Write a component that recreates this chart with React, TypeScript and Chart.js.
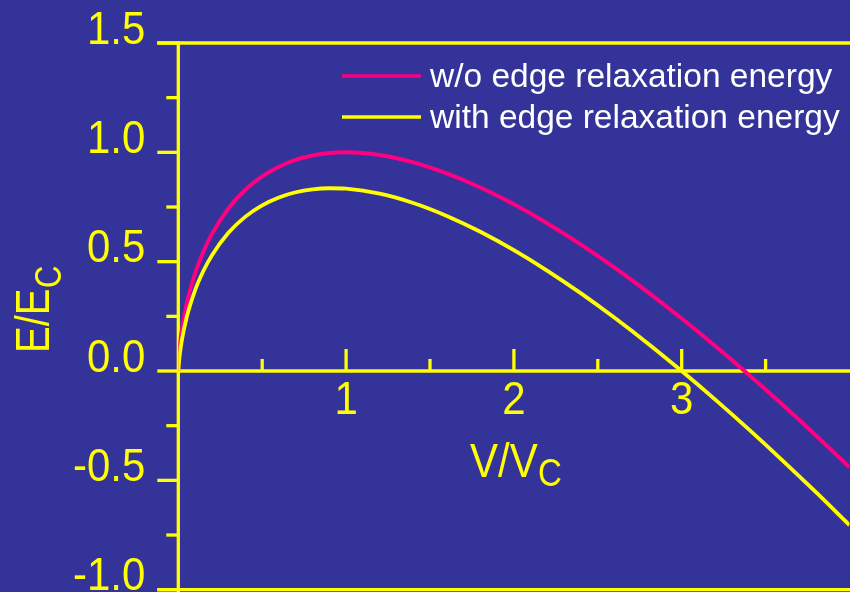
import React, { useEffect, useRef } from "react";
import { Chart, registerables } from "chart.js";

Chart.register(...registerables);

// Reduced volume V/Vc
const vValues = [
  0, 0.005, 0.02, 0.05, 0.1, 0.15, 0.2, 0.3, 0.4, 0.5, 0.6, 0.7, 0.8, 0.9, 1.0,
  1.2, 1.4, 1.6, 1.8, 2.0, 2.2, 2.4, 2.6, 2.8, 3.0, 3.2, 3.4, 3.6, 3.8, 4.0,
];

// E/Ec without edge relaxation energy
const energyWithout = [
  0, 0.0777, 0.181, 0.3072, 0.4463, 0.5469, 0.626, 0.7444, 0.8287, 0.8899,
  0.9341, 0.9651, 0.9853, 0.9965, 1.0, 0.9877, 0.9544, 0.9039, 0.8392, 0.7622,
  0.6746, 0.5777, 0.4724, 0.3597, 0.2402, 0.1146, -0.0167, -0.1532, -0.2946,
  -0.4405,
];

// E/Ec with edge relaxation energy
const energyWith = [
  0, 0.0492, 0.1358, 0.2459, 0.3691, 0.4585, 0.5287, 0.633, 0.7061, 0.7578,
  0.7938, 0.8174, 0.8308, 0.8358, 0.8336, 0.8109, 0.7683, 0.7093, 0.6368,
  0.5526, 0.4582, 0.3549, 0.2436, 0.1252, 0.0, -0.1306, -0.2669, -0.4082,
  -0.5543, -0.7046,
];

const seriesNames = ["w/o edge relaxation energy", "with edge relaxation energy"];

const yTickValues = [1.5, 1.0, 0.5, 0.0, -0.5, -1.0];
const yTickLabels = ["1.5", "1.0", "0.5", "0.0", "-0.5", "-1.0"];
const yMinorTicks = [1.25, 0.75, 0.25, -0.25, -0.75];
const xTickValues = [1, 2, 3];
const xTickLabels = ["1", "2", "3"];
const xMinorTicks = [0.5, 1.5, 2.5, 3.5];

const BG = "#333399";
const YELLOW = "#ffff00";
const PINK = "#ff0080";
const FONT = '"Liberation Sans", Arial, Helvetica, sans-serif';

const toPoints = (ys: number[]) => vValues.map((x, i) => ({ x, y: ys[i] }));

// draws text with a slight vertical stretch, anchored at its baseline
const tallText = (
  ctx: CanvasRenderingContext2D,
  text: string,
  x: number,
  y: number,
  size: number,
  stretch: number,
  angle = 0
) => {
  ctx.save();
  ctx.translate(x, y);
  if (angle) ctx.rotate(angle);
  ctx.scale(1, stretch);
  ctx.font = `${size}px ${FONT}`;
  ctx.fillText(text, 0, 0);
  ctx.restore();
};

const framePlugin = {
  id: "frame",
  beforeDraw(chart: any) {
    const { ctx, width, height } = chart;
    ctx.save();
    ctx.fillStyle = BG;
    ctx.fillRect(0, 0, width, height);
    ctx.restore();
  },
  beforeDatasetsDraw(chart: any) {
    const { ctx, scales, width, height } = chart;
    const xs = scales.x;
    const ys = scales.y;
    const x0 = xs.getPixelForValue(0);
    const yZero = ys.getPixelForValue(0);
    const yTop = ys.getPixelForValue(1.5);
    const yBottom = ys.getPixelForValue(-1);
    const majorLeft = x0 - 21;
    const minorLeft = x0 - 12;

    ctx.save();
    ctx.strokeStyle = YELLOW;
    ctx.lineWidth = 3.3;
    ctx.lineCap = "butt";

    const line = (ax: number, ay: number, bx: number, by: number) => {
      ctx.beginPath();
      ctx.moveTo(ax, ay);
      ctx.lineTo(bx, by);
      ctx.stroke();
    };

    // frame: top, bottom, left axis, zero line
    line(majorLeft, yTop, width, yTop);
    line(majorLeft, yBottom, width, yBottom);
    line(x0, yTop - 1.6, x0, height);
    line(x0, yZero, width, yZero);

    // y ticks
    yTickValues.forEach((v) => {
      const p = ys.getPixelForValue(v);
      line(majorLeft, p, x0, p);
    });
    yMinorTicks.forEach((v) => {
      const p = ys.getPixelForValue(v);
      line(minorLeft, p, x0, p);
    });

    // x ticks pointing up from the zero line
    xTickValues.forEach((v) => {
      const p = xs.getPixelForValue(v);
      line(p, yZero - 22, p, yZero);
    });
    xMinorTicks.forEach((v) => {
      const p = xs.getPixelForValue(v);
      line(p, yZero - 12, p, yZero);
    });

    // tick labels
    ctx.fillStyle = YELLOW;
    ctx.textBaseline = "alphabetic";
    ctx.textAlign = "right";
    yTickValues.forEach((v, i) => {
      const p = ys.getPixelForValue(v);
      tallText(ctx, yTickLabels[i], x0 - 33, p + 0.5, 42, 1.1);
    });
    ctx.textAlign = "center";
    xTickValues.forEach((v, i) => {
      const p = xs.getPixelForValue(v);
      tallText(ctx, xTickLabels[i], p, yZero + 43, 42, 1.1);
    });

    // x axis title V/Vc
    ctx.textAlign = "left";
    tallText(ctx, "V/V", 470, 476.5, 42, 1.15);
    tallText(ctx, "C", 538, 485.5, 33, 1.15);

    // y axis title E/Ec
    tallText(ctx, "E/E", 49, 353, 40, 1.2, -Math.PI / 2);
    tallText(ctx, "C", 61, 288, 31, 1.2, -Math.PI / 2);

    ctx.restore();
  },
  afterDatasetsDraw(chart: any) {
    const { ctx } = chart;
    const colors = [PINK, YELLOW];
    const rows = [76, 117];
    ctx.save();
    ctx.font = `33.5px ${FONT}`;
    ctx.textAlign = "left";
    ctx.textBaseline = "alphabetic";
    seriesNames.forEach((name, i) => {
      ctx.strokeStyle = colors[i];
      ctx.lineWidth = 3.6;
      ctx.beginPath();
      ctx.moveTo(342, rows[i]);
      ctx.lineTo(421, rows[i]);
      ctx.stroke();
      ctx.fillStyle = "#ffffff";
      ctx.fillText(name, 430, rows[i] + 10.5);
    });
    ctx.restore();
  },
};

export default function App() {
  const canvasRef = useRef<HTMLCanvasElement | null>(null);

  useEffect(() => {
    const canvas = canvasRef.current;
    if (!canvas) return;
    const chart = new Chart(canvas, {
      type: "scatter",
      data: {
        datasets: [
          {
            label: seriesNames[0],
            data: toPoints(energyWithout),
            showLine: true,
            borderColor: PINK,
            borderWidth: 4,
            pointRadius: 0,
            cubicInterpolationMode: "monotone",
            order: 1,
          },
          {
            label: seriesNames[1],
            data: toPoints(energyWith),
            showLine: true,
            borderColor: YELLOW,
            borderWidth: 3.8,
            pointRadius: 0,
            cubicInterpolationMode: "monotone",
            order: 0,
          },
        ],
      },
      options: {
        animation: false,
        responsive: false,
        events: [],
        layout: { padding: { left: 178.3, right: 0.5, top: 43, bottom: 2.3 } },
        plugins: {
          legend: { display: false },
          tooltip: { enabled: false },
        },
        scales: {
          x: { type: "linear", min: 0, max: 4, display: false },
          y: { type: "linear", min: -1, max: 1.5, display: false },
        },
      },
      plugins: [framePlugin],
    });
    return () => chart.destroy();
  }, []);

  return (
    <div style={{ position: "absolute", left: 0, top: 0, width: 850, height: 592, background: BG }}>
      <canvas ref={canvasRef} width={850} height={592} style={{ display: "block" }} />
    </div>
  );
}
